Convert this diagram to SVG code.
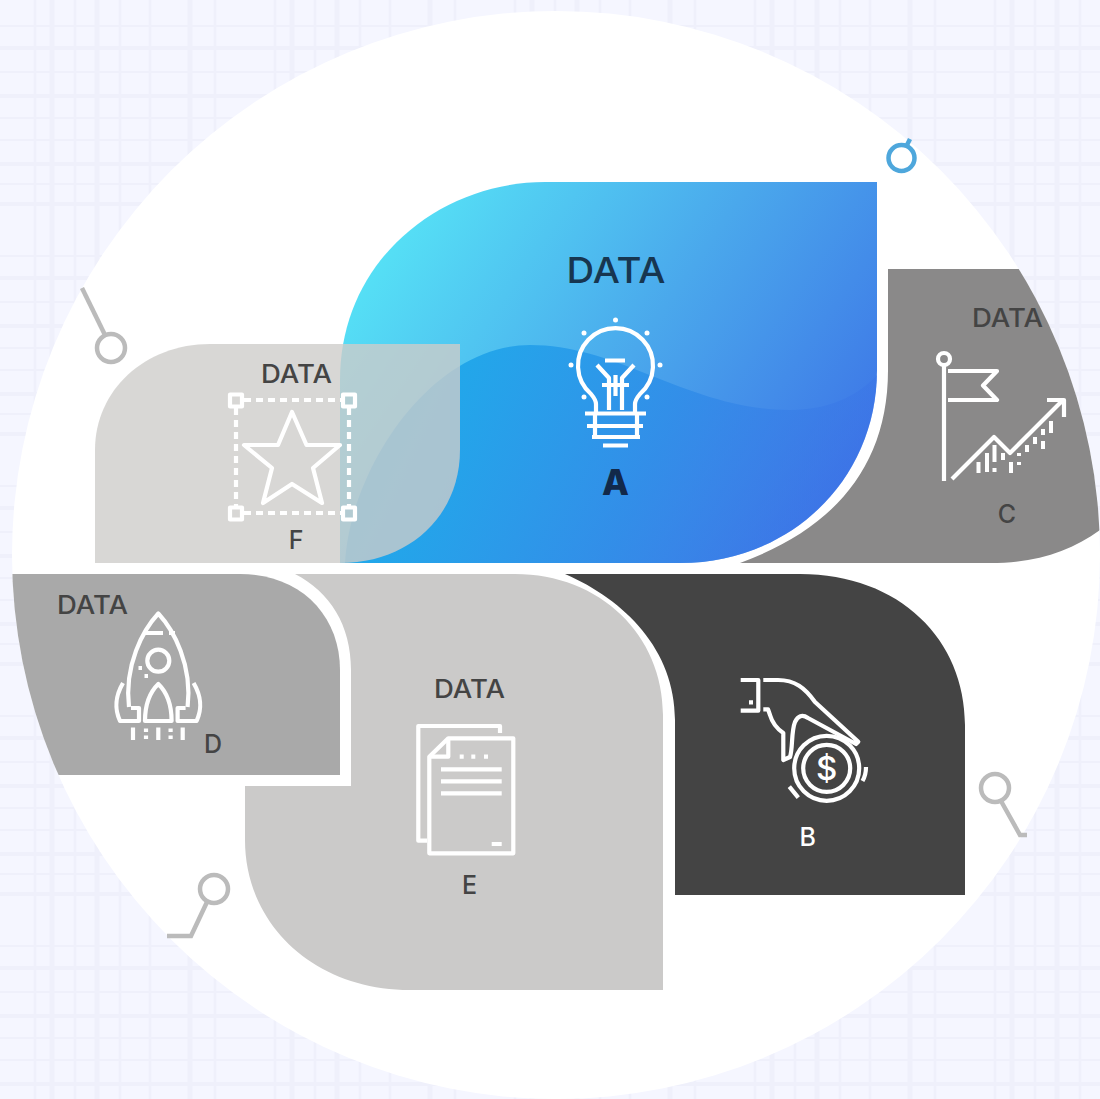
<svg xmlns="http://www.w3.org/2000/svg" width="1100" height="1099" viewBox="0 0 1100 1099">
<style>
.ic{fill:none;stroke:#fff;stroke-width:4.200;stroke-linejoin:round}
.t{font-family:"Inter","Liberation Sans",sans-serif;font-weight:500;fill:#444}
.d{font-size:25px}
.l{font-size:25px;text-anchor:middle}
.pin{fill:none;stroke:#bbb;stroke-width:4.500}
.wd{fill:#fff}
</style>
<defs>
<clipPath id="disc"><circle cx="556" cy="555" r="544"/></clipPath>
<linearGradient id="ga" gradientUnits="userSpaceOnUse" x1="390" y1="215" x2="850" y2="530">
<stop offset="0" stop-color="#56e3f6"/><stop offset=".5" stop-color="#4aa8ec"/><stop offset="1" stop-color="#3c70e6"/>
</linearGradient>
<linearGradient id="gw" gradientUnits="userSpaceOnUse" x1="440" y1="360" x2="830" y2="540">
<stop offset="0" stop-color="#20a9ea"/><stop offset=".55" stop-color="#2f8ce8" stop-opacity=".85"/><stop offset="1" stop-color="#3c70e6" stop-opacity=".4"/>
</linearGradient>
<clipPath id="ca"><path d="M340 563V380C340 260 440 182 545 182H877V370C877 480 790 563 680 563Z"/></clipPath>
<pattern id="grid" width="240" height="230" patternUnits="userSpaceOnUse">
<rect width="240" height="230" fill="#f5f6ff"/>
<g stroke="#eff0fb" fill="none">
<path stroke-width="5" d="M52 0V230M97 0V230M190 0V230"/>
<path stroke-width="2.500" d="M35 0V230M75 0V230M120 0V230M150 0V230M215 0V230"/>
<path stroke-width="4" d="M0 48H240M0 96H240M0 164H240M0 204H240"/>
<path stroke-width="2" d="M0 26H240M0 72H240M0 118H240M0 140H240M0 184H240"/>
</g>
</pattern>
</defs>

<g id="background">
<rect width="1100" height="1099" fill="url(#grid)"/>
<circle cx="556" cy="555" r="544" fill="#fff"/>
</g>

<g id="connectors">
<path class="pin" style="stroke:#4ea7dc" d="M906 147L910 139"/>
<circle class="pin" style="stroke:#4ea7dc" cx="901.500" cy="158" r="13"/>
<path class="pin" d="M82 288L105 335"/>
<circle class="pin" cx="111" cy="348" r="14"/>
<path class="pin" d="M1001 801L1020 835H1027"/>
<circle class="pin" cx="995" cy="788" r="14"/>
<path class="pin" d="M207 902L191 936H167"/>
<circle class="pin" cx="214" cy="889" r="14"/>
</g>

<g id="node-a">
<path fill="url(#ga)" d="M340 563V380C340 260 440 182 545 182H877V370C877 480 790 563 680 563Z"/>
<path clip-path="url(#ca)" fill="url(#gw)" d="M345 563C350 470 430 345 530 345C620 345 690 410 790 410C830 410 860 395 880 372V570H345Z"/>
<text class="t" x="616" y="283" textLength="99" lengthAdjust="spacingAndGlyphs" text-anchor="middle" style="font-size:36px;fill:#173650">DATA</text>
<g class="ic" stroke-linecap="butt">
<path d="M596 413V404Q596 400 591 394A37.500 37.500 0 1 1 640 394Q635 400 635 404V413"/>
<path d="M585 413.500H646M587 426H643M592 437H640M595 413V437M637 413V437M603 445.500H628M605 360.500H625M597 365L609 378V410M634 365L622 378V410M602 385H629M615.500 375V396"/>
</g>
<g class="wd"><circle cx="615.500" cy="320" r="2.500"/><circle cx="584" cy="333" r="2.500"/><circle cx="647" cy="333" r="2.500"/><circle cx="571" cy="365" r="2.500"/><circle cx="660" cy="365" r="2.500"/><circle cx="584" cy="397" r="2.500"/><circle cx="647" cy="397" r="2.500"/></g>
<text class="t" x="615.500" y="495" text-anchor="middle" textLength="27" lengthAdjust="spacingAndGlyphs" style="font-size:35px;font-weight:800;fill:#12294a">A</text>
</g>

<g id="node-f">
<path fill="#cdccca" fill-opacity=".79" d="M95 563V450C95 390 145 344 210 344H460V450C460 515 410 563 340 563Z"/>
<text class="t d" x="261" y="382.500" textLength="71" lengthAdjust="spacingAndGlyphs">DATA</text>
<g class="ic">
<path stroke-dasharray="7 5" d="M244 400H342M244 513H342M236 408V506M349 408V506"/>
<rect x="230" y="394.500" width="12" height="12"/><rect x="343" y="394.500" width="12" height="12"/><rect x="230" y="507.500" width="12" height="12"/><rect x="343" y="507.500" width="12" height="12"/>
<path d="M292 412L306.500 445H340L313 468L322 503L292 484L263 503L272 468L244 445H278Z"/>
</g>
<text class="t l" x="296" y="549">F</text>
</g>

<g id="node-c">
<path clip-path="url(#disc)" fill="#8a8989" d="M740 563C830 530 888 470 888 370V269H1100V530C1070 552 1035 563 990 563Z"/>
<text class="t d" x="972" y="326.500" textLength="71" lengthAdjust="spacingAndGlyphs">DATA</text>
<g class="ic">
<circle cx="944" cy="359" r="6"/>
<path d="M944 366V481M948 371H997L983 385.500L997 400H948M952 479L994 437L1010 453L1063 400M1047 400H1064V417"/>
</g>
<g class="wd">
<rect x="976.500" y="462" width="4" height="11"/><rect x="985" y="453" width="4" height="19"/><rect x="992.500" y="445" width="4" height="17"/><rect x="992.500" y="468" width="4" height="4"/><rect x="1001" y="453" width="4" height="7"/><rect x="1009" y="462" width="4" height="11"/><rect x="1017" y="453" width="4" height="3"/><rect x="1017" y="462" width="4" height="3"/><rect x="1025" y="445" width="4" height="7"/><rect x="1033" y="437" width="4" height="7"/><rect x="1041" y="429" width="4" height="6"/><rect x="1041" y="441" width="4" height="8"/><rect x="1049" y="421" width="4" height="12"/>
</g>
<text class="t l" x="1007" y="522.500">C</text>
</g>

<g id="node-d">
<path clip-path="url(#disc)" fill="#a9a9a9" d="M0 574H240C300 574 340 615 340 670V775H0Z"/>
<text class="t d" x="57" y="613.500" textLength="71" lengthAdjust="spacingAndGlyphs">DATA</text>
<g class="ic">
<path d="M129 707C124 665 143 630 158.300 613.500C173.600 630 192.600 665 187.600 707"/>
<path d="M123 683C113 700 116 712 120 721H139V708H131M193.600 683C203.600 700 200.600 712 196.600 721H177.600V708H185.600"/>
<path d="M145 721C145 705 150 692 158.300 684C166.600 692 171.600 705 171.600 721Z"/>
<circle cx="158.300" cy="660.700" r="11"/>
<path d="M143.500 633H163M169 633H175M133 727.500V740M158.300 727.500V740M182.700 727.500V740M146 728.500V732M146 735.500V739M170.600 728.500V732M170.600 735.500V739M138.500 668H142M144.500 676H148"/>
</g>
<text class="t l" x="213" y="753">D</text>
</g>

<g id="node-e">
<path fill="#cbcac9" d="M295 574H515C600 574 663 635 663 715V990H410C315 990 245 925 245 840V786H351V670C351 625 330 592 295 574Z"/>
<text class="t d" x="434" y="697.500" textLength="71" lengthAdjust="spacingAndGlyphs">DATA</text>
<g class="ic">
<path d="M500 733V726H418.300V840.700H427"/>
<path d="M429.300 756.700L448.300 738.300H513.300V853.300H429.300Z"/>
<path d="M448.300 738.300V756.700H429.300"/>
<path d="M441 769.300H501.700M441 781.300H501.700M441 793.300H501.700M491.700 844H501.700M459.700 756.700H463.700M471.300 756.700H475.300M484 756.700H488"/>
</g>
<text class="t l" x="469.500" y="894">E</text>
</g>

<g id="node-b">
<path fill="#444" d="M565 574H800C900 574 965 640 965 725V895H675V720C675 650 625 600 565 574Z"/>
<g class="ic">
<path d="M740.700 680H758.300V710.700H740.700M749 702.300H753"/>
<path d="M763.300 680H778C795 680 805 688 815 702L858.300 741.700L856 744L808 718C802 714 798 716 795 722C791 732 793 748 790 757L783.300 760V733C776 728 772 722 770 715L768 709.300H763.300"/>
<circle cx="826.700" cy="768.300" r="32.500"/>
<circle cx="826.700" cy="768.300" r="23.500"/>
<path d="M866 767Q866 775 862.500 781M789.300 786.700L798.300 797.700"/>
</g>
<text x="826.700" y="780" text-anchor="middle" style="font-family:'Inter','Liberation Sans',sans-serif;font-size:33px;font-weight:500;fill:#fff">$</text>
<text class="t l" x="807.700" y="845.700" style="fill:#fff">B</text>
</g>
</svg>
